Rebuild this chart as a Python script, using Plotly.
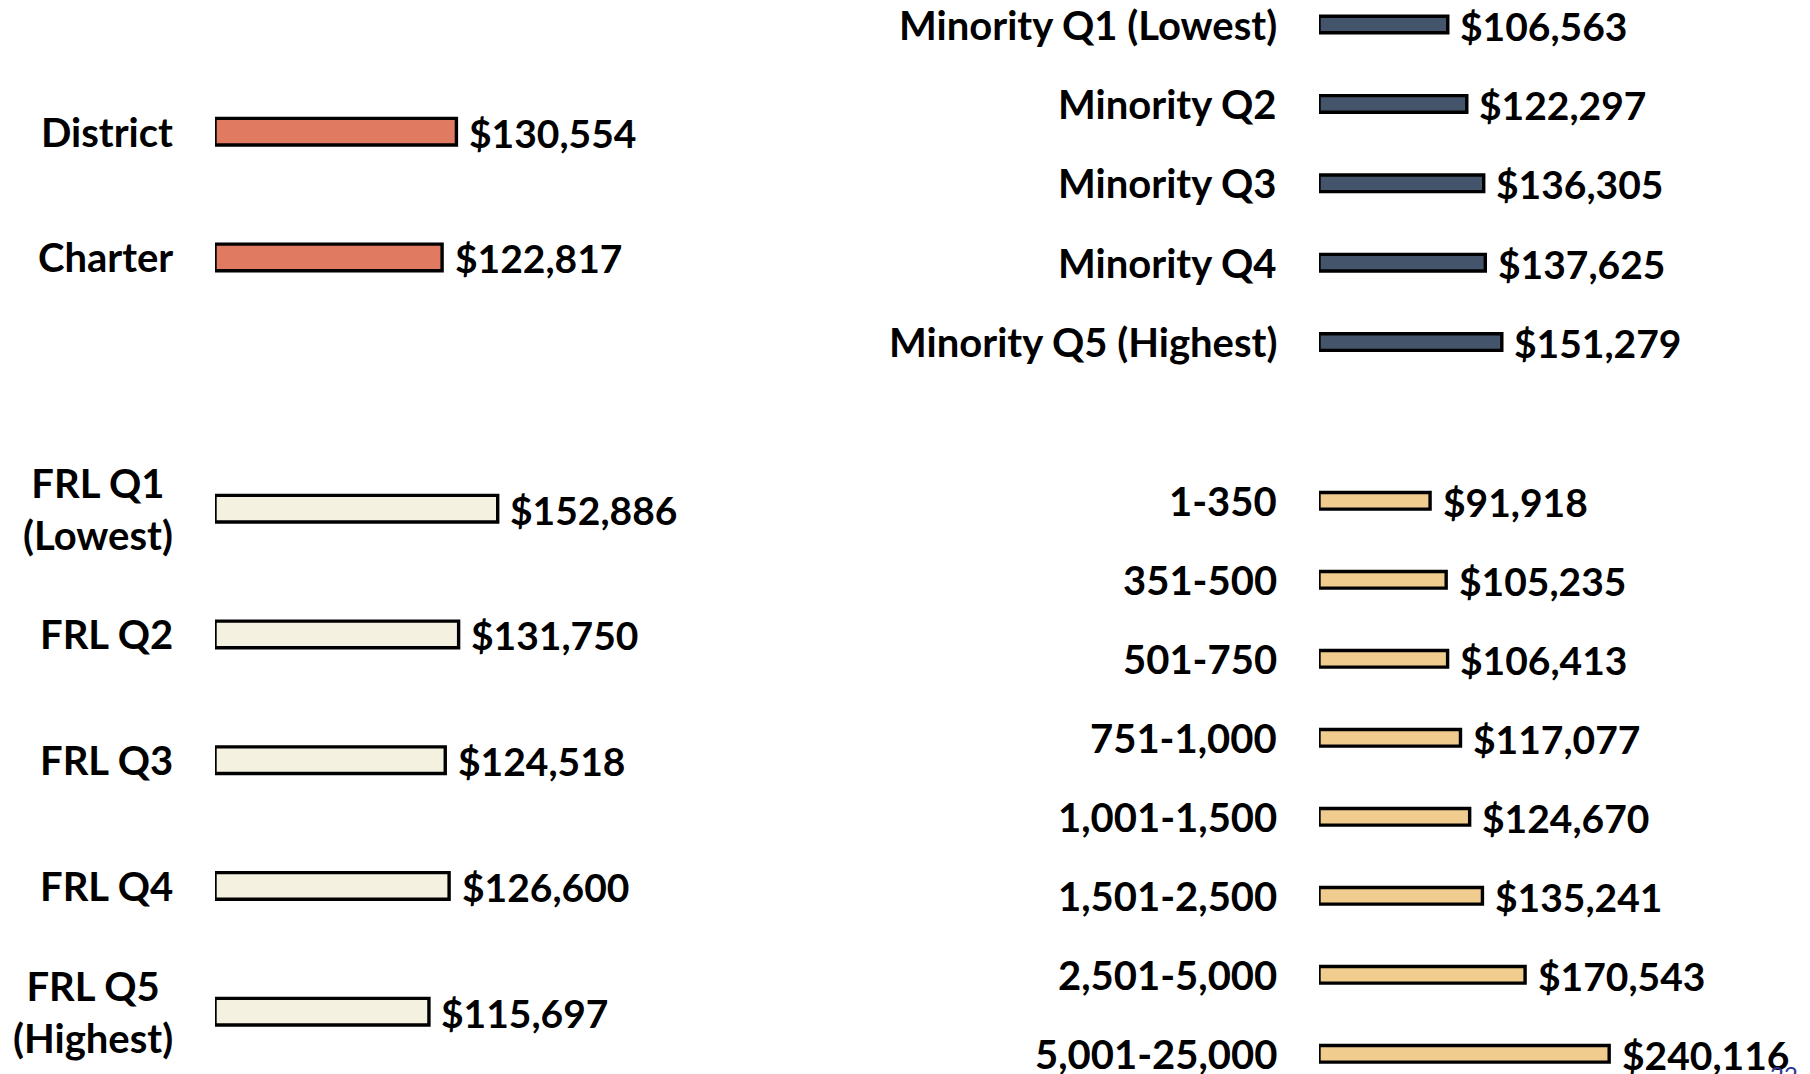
import plotly.graph_objects as go

# ---------------- data ----------------
sector_labels = ["District", "Charter"]
sector_values = [130554, 122817]

frl_labels = ["FRL Q1<br>(Lowest)", "FRL Q2", "FRL Q3", "FRL Q4", "FRL Q5<br>(Highest)"]
frl_values = [152886, 131750, 124518, 126600, 115697]

minority_labels = ["Minority Q1 (Lowest)", "Minority Q2", "Minority Q3", "Minority Q4", "Minority Q5 (Highest)"]
minority_values = [106563, 122297, 136305, 137625, 151279]

enroll_labels = ["1-350", "351-500", "501-750", "751-1,000", "1,001-1,500", "1,501-2,500", "2,501-5,000", "5,001-25,000"]
enroll_values = [91918, 105235, 106413, 117077, 124670, 135241, 170543, 240116]

page_number = "22"

# ---------------- layout helpers ----------------
W, H = 1810, 1074
FONT = "Lato"
LINE_W = 3.4

def y_cfg(cats, c0, s, top, bot):
    return dict(domain=[1 - bot / H, 1 - top / H],
                range=[(bot - c0) / s, (top - c0) / s],
                type="category", categoryorder="array", categoryarray=cats,
                visible=False, fixedrange=True)

def x_cfg(x0, x1, dollars_per_px):
    return dict(domain=[x0 / W, x1 / W], range=[0, (x1 - x0) * dollars_per_px],
                visible=False, fixedrange=True)

groups = [
    # labels, values, colour, x-axis cfg, y-axis geometry
    (sector_labels, sector_values, "#E07B62", x_cfg(215.0, 905, 540.8), (131.7, 125.7, 0, 380)),
    (frl_labels, frl_values, "#F4F1E0", x_cfg(215.0, 905, 540.8), (508.7, 125.75, 400, 1074)),
    (minority_labels, minority_values, "#44546A", x_cfg(1319.0, 1810, 827.5), (24.5, 79.4, 0, 400)),
    (enroll_labels, enroll_values, "#F0CD8F", x_cfg(1319.0, 1810, 827.5), (500.8, 79.0, 420, 1074)),
]

fig = go.Figure()
annotations = []
for i, (labels, values, colour, xc, (c0, s, top, bot)) in enumerate(groups, start=1):
    xa = "x" if i == 1 else f"x{i}"
    ya = "y" if i == 1 else f"y{i}"
    width_units = 26.6 / s if i <= 2 else 16.6 / s
    fig.add_trace(go.Bar(
        x=values, y=labels, orientation="h",
        xaxis=xa, yaxis=ya,
        width=width_units,
        marker=dict(color=colour, line=dict(color="black", width=LINE_W)),
        hoverinfo="skip", showlegend=False, cliponaxis=False,
    ))
    axkey = "xaxis" if i == 1 else f"xaxis{i}"
    aykey = "yaxis" if i == 1 else f"yaxis{i}"
    xc = dict(xc, anchor=ya)
    yc = y_cfg(labels, c0, s, top, bot)
    yc["anchor"] = xa
    fig.update_layout(**{axkey: xc, aykey: yc})
    for lab, val in zip(labels, values):
        annotations.append(dict(
            x=0, y=lab, xref=xa, yref=ya, text=lab, showarrow=False,
            xanchor="right", yanchor="middle", align="center", xshift=-40.5,
            font=dict(family=FONT, size=40, color="black", weight="bold"),
        ))
        annotations.append(dict(
            x=val, y=lab, xref=xa, yref=ya, text=f"${val:,}", showarrow=False,
            xanchor="left", yanchor="middle", xshift=10.5, yshift=-1,
            font=dict(family=FONT, size=39, color="black", weight="bold"),
        ))

annotations.append(dict(
    x=1768 / W, y=1 - 1058 / H, xref="paper", yref="paper", text=page_number,
    showarrow=False, xanchor="left", yanchor="top",
    font=dict(family=FONT, size=24, color="#2B3990"),
))

fig.update_layout(
    width=W, height=H,
    margin=dict(l=0, r=0, t=0, b=0),
    paper_bgcolor="white", plot_bgcolor="white",
    annotations=annotations,
    hovermode=False,
)

fig.write_html("out.html", config={"displayModeBar": False, "staticPlot": True},
               post_script="document.body.style.margin='0';document.body.style.overflow='hidden';")
